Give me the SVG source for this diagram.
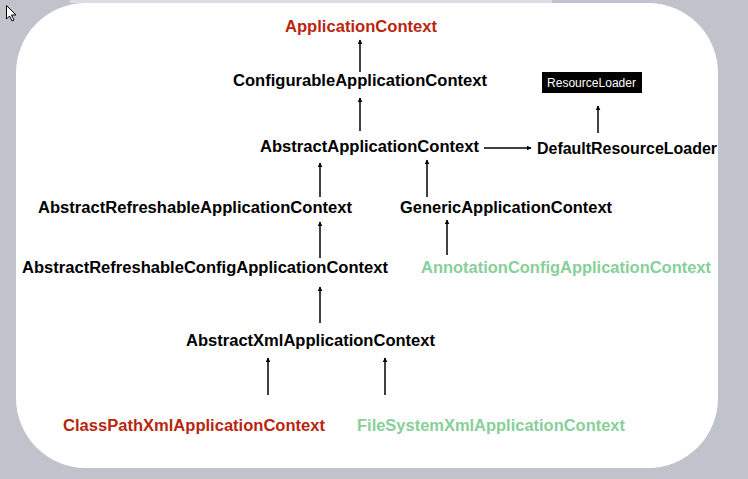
<svg xmlns="http://www.w3.org/2000/svg" width="748" height="479" viewBox="0 0 748 479">
  <style>
    .t { font-family: "Liberation Sans", Arial, Helvetica, sans-serif; font-weight: bold; font-size: 16px; fill: #000; }
    .red { fill: #b8260f; }
    .green { fill: #88cf99; }
    .rl { font-family: "Liberation Sans", Arial, Helvetica, sans-serif; font-size: 12px; fill: #fff; }
    .c { stroke: #000; stroke-width: 1.5; fill: none; marker-end: url(#ah); }
  </style>
  <defs>
    <marker id="ah" viewBox="0 0 8 8" refX="7" refY="4" markerWidth="5" markerHeight="5" markerUnits="userSpaceOnUse" orient="auto">
      <path d="M0,0 L8,4 L0,8 z" fill="#000"/>
    </marker>
  </defs>
  <rect x="0" y="0" width="748" height="479" fill="#c1c3cc"/>
  <rect x="70" y="0" width="482" height="3" fill="#dcdde2"/>
  <rect x="16" y="3" width="702" height="465" rx="70" ry="70" fill="#fff"/>
  <polygon points="6.5,5.5 6.5,19 9.5,16 12,21 14,20 11.5,15 16,15" fill="#fff" stroke="#000" stroke-width="1"/>

  <g id="connectors">
    <line class="c" x1="360" y1="72" x2="360" y2="40"/>
    <line class="c" x1="360" y1="131" x2="360" y2="98"/>
    <line class="c" x1="598" y1="133" x2="598" y2="106"/>
    <line class="c" x1="484" y1="148" x2="531" y2="148"/>
    <line class="c" x1="320" y1="197" x2="320" y2="163"/>
    <line class="c" x1="427" y1="197" x2="427" y2="160"/>
    <line class="c" x1="320" y1="258" x2="320" y2="222"/>
    <line class="c" x1="447" y1="255" x2="447" y2="220"/>
    <line class="c" x1="320" y1="323" x2="320" y2="287"/>
    <line class="c" x1="268" y1="395" x2="268" y2="358"/>
    <line class="c" x1="385" y1="395" x2="385" y2="358"/>
  </g>

  <g id="ApplicationContext"><text class="t red" x="285" y="32" textLength="152" lengthAdjust="spacingAndGlyphs">ApplicationContext</text></g>
  <g id="ConfigurableApplicationContext"><text class="t" x="233" y="86" textLength="254" lengthAdjust="spacingAndGlyphs">ConfigurableApplicationContext</text></g>
  <g id="ResourceLoader">
    <rect x="542" y="72" width="100" height="21" fill="#000"/>
    <text class="rl" x="547" y="87" textLength="89" lengthAdjust="spacingAndGlyphs">ResourceLoader</text>
  </g>
  <g id="AbstractApplicationContext"><text class="t" x="260" y="152" textLength="219" lengthAdjust="spacingAndGlyphs">AbstractApplicationContext</text></g>
  <g id="DefaultResourceLoader"><text class="t" x="537" y="154" textLength="180" lengthAdjust="spacingAndGlyphs">DefaultResourceLoader</text></g>
  <g id="AbstractRefreshableApplicationContext"><text class="t" x="38" y="213" textLength="314" lengthAdjust="spacingAndGlyphs">AbstractRefreshableApplicationContext</text></g>
  <g id="GenericApplicationContext"><text class="t" x="400" y="213" textLength="212" lengthAdjust="spacingAndGlyphs">GenericApplicationContext</text></g>
  <g id="AbstractRefreshableConfigApplicationContext"><text class="t" x="22" y="273" textLength="366" lengthAdjust="spacingAndGlyphs">AbstractRefreshableConfigApplicationContext</text></g>
  <g id="AnnotationConfigApplicationContext"><text class="t green" x="421" y="273" textLength="290" lengthAdjust="spacingAndGlyphs">AnnotationConfigApplicationContext</text></g>
  <g id="AbstractXmlApplicationContext"><text class="t" x="186" y="346" textLength="249" lengthAdjust="spacingAndGlyphs">AbstractXmlApplicationContext</text></g>
  <g id="ClassPathXmlApplicationContext"><text class="t red" x="63" y="431" textLength="262" lengthAdjust="spacingAndGlyphs">ClassPathXmlApplicationContext</text></g>
  <g id="FileSystemXmlApplicationContext"><text class="t green" x="357" y="431" textLength="268" lengthAdjust="spacingAndGlyphs">FileSystemXmlApplicationContext</text></g>
</svg>
